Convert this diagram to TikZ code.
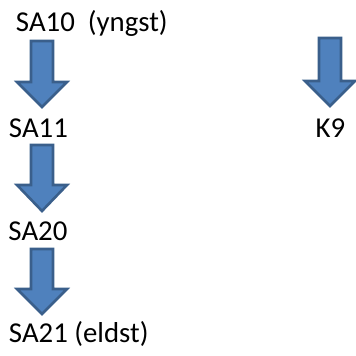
\documentclass[tikz,border=0pt]{standalone}
\usepackage{fontspec}
\setmainfont{Carlito}
\definecolor{arrfill}{HTML}{4F81BD}
\definecolor{arredge}{HTML}{3A5F8B}
\newcommand{\myblockarrow}[4]{% x, top, headstart, tip
  \draw[blockarr] (#1-11,#2) -- (#1+11,#2) -- (#1+11,#3) -- (#1+25,#3) -- (#1,#4) -- (#1-25,#3) -- (#1-11,#3) -- cycle;}
\begin{document}
\begin{tikzpicture}[x=1pt,y=-1pt,
  lbl/.style={inner sep=0pt,outer sep=0pt,font=\fontsize{28.8}{34}\selectfont,text=black},
  blockarr/.style={fill=arrfill,draw=arredge,line width=2.6pt,line join=miter}]
\useasboundingbox (0,0) rectangle (356,356);
\node[lbl,anchor=base west] (sa10) at (16,31.5) {SA10\ \ (yngst)};
\node[lbl,anchor=base west] (sa11) at (9,137) {SA11};
\node[lbl,anchor=base west] (sa20) at (8.5,240) {SA20};
\node[lbl,anchor=base west] (sa21) at (9,342) {SA21 (eldst)};
\node[lbl,anchor=base] (k9) at (330.5,137) {K9};
\myblockarrow{42}{41}{82}{107}
\myblockarrow{42}{145}{185}{211}
\myblockarrow{42}{249}{289}{314}
\myblockarrow{330}{38}{81}{106}
\end{tikzpicture}
\end{document}
